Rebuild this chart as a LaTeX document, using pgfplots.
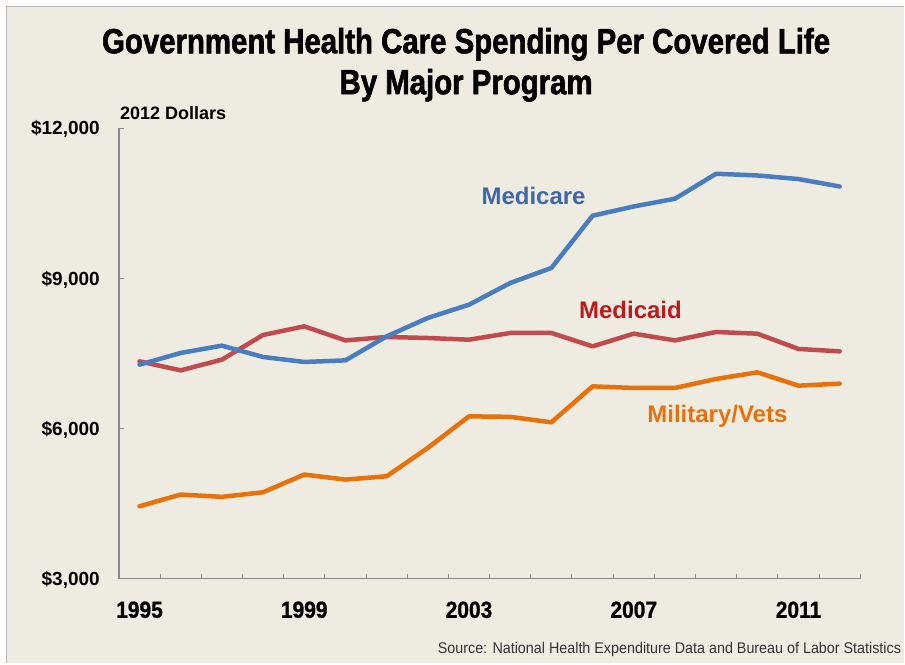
\documentclass[border=0pt]{standalone}
\usepackage{pgfplots}
\usepackage{pgfplotstable}
\pgfplotsset{compat=1.18}
\usepackage{fontspec}
\setmainfont{Liberation Sans}
\newfontfamily\titlefont[FakeStretch=0.84,FakeBold=1.6]{Liberation Sans}
\newfontfamily\yearfont[FakeStretch=0.9,FakeBold=1]{Liberation Sans}
\newfontfamily\srcfont[FakeStretch=0.925]{Liberation Sans}

\definecolor{bg}{HTML}{EEEBE1}
\definecolor{framegray}{HTML}{B5B5B5}
\definecolor{axisgray}{HTML}{8A8A8A}
\definecolor{medicare}{HTML}{4A7CC0}
\definecolor{medicaretxt}{HTML}{3E68A8}
\definecolor{medicaid}{HTML}{C04A4E}
\definecolor{medicaidtxt}{HTML}{BE1A1E}
\definecolor{military}{HTML}{E8710C}

% spending per covered life, 2012 dollars
\pgfplotstableread{
year medicare medicaid military
1995 7277  7343 4449
1996 7511  7164 4683
1997 7657  7377 4637
1998 7431  7870 4729
1999 7331  8042 5082
2000 7363  7762 4982
2001 7842  7830 5048
2002 8210  7810 5615
2003 8475  7776 6245
2004 8908  7910 6235
2005 9208  7910 6126
2006 10252 7643 6844
2007 10437 7896 6812
2008 10591 7762 6812
2009 11090 7930 6992
2010 11056 7896 7124
2011 10984 7591 6858
2012 10836 7543 6898
}\spending

\begin{document}
\begin{tikzpicture}[x=1pt,y=1pt]
\fill[white] (0,0) rectangle (905,664);
\fill[bg] (6.5,0) rectangle (905,657.5);
\draw[framegray,line width=1.5pt] (6.5,0) -- (6.5,657.5) -- (905,657.5);

\begin{axis}[
    at={(119pt,84.7pt)}, anchor=south west,
    width=742pt, height=451pt, scale only axis,
    xmin=1994.5, xmax=2012.5, ymin=3000, ymax=12000,
    scaled y ticks=false,
    axis lines=left,
    axis line style={-, axisgray, line width=1.3pt},
    tick align=inside,
    xtick={1995,1999,2003,2007,2011},
    xticklabels={1995,1999,2003,2007,2011},
    major x tick style={draw=none},
    minor xtick={1995.5,1996.5,...,2012.5},
    minor x tick style={axisgray, line width=1pt},
    minor tick length=5pt,
    ytick={3000,6000,9000,12000},
    yticklabels={{\$3,000},{\$6,000},{\$9,000},{\$12,000}},
    major y tick style={axisgray, line width=1pt},
    major tick length=5pt,
    xticklabel style={font=\yearfont\bfseries\fontsize{23.3}{23.3}\selectfont,
        anchor=base, inner sep=0pt, yshift=-39pt},
    yticklabel style={font=\bfseries\fontsize{19}{19}\selectfont,
        anchor=base east, inner sep=0pt, xshift=-19pt, yshift=-6.7pt},
    clip=false,
]
\addplot[medicaid, line width=4.5pt, line join=round, line cap=round] table[x=year,y=medicaid]{\spending};
\addplot[medicare, line width=4.5pt, line join=round, line cap=round] table[x=year,y=medicare]{\spending};
\addplot[military, line width=4.5pt, line join=round, line cap=round] table[x=year,y=military]{\spending};
\end{axis}

% titles and labels
\node[anchor=base, inner sep=0pt, font=\titlefont\bfseries\fontsize{35}{35}\selectfont]
    at (466.5,610.7) {Government Health Care Spending Per Covered Life};
\node[anchor=base, inner sep=0pt, font=\titlefont\bfseries\fontsize{35}{35}\selectfont]
    at (466.5,569.7) {By Major Program};
\node[anchor=base west, inner sep=0pt, font=\bfseries\fontsize{18}{18}\selectfont]
    at (120,544) {2012 Dollars};
\node[anchor=base, inner sep=0pt, text=medicaretxt, font=\bfseries\fontsize{24}{24}\selectfont]
    at (534,459) {Medicare};
\node[anchor=base, inner sep=0pt, text=medicaidtxt, font=\bfseries\fontsize{24}{24}\selectfont]
    at (631,345.7) {Medicaid};
\node[anchor=base, inner sep=0pt, text=military, font=\bfseries\fontsize{24}{24}\selectfont]
    at (718,240.7) {Military/Vets};
\node[anchor=base east, inner sep=0pt, text=black!80, font=\srcfont\fontsize{15.5}{15.5}\selectfont]
    at (902,10) {Source: National Health Expenditure Data and Bureau of Labor Statistics};
\end{tikzpicture}
\end{document}
